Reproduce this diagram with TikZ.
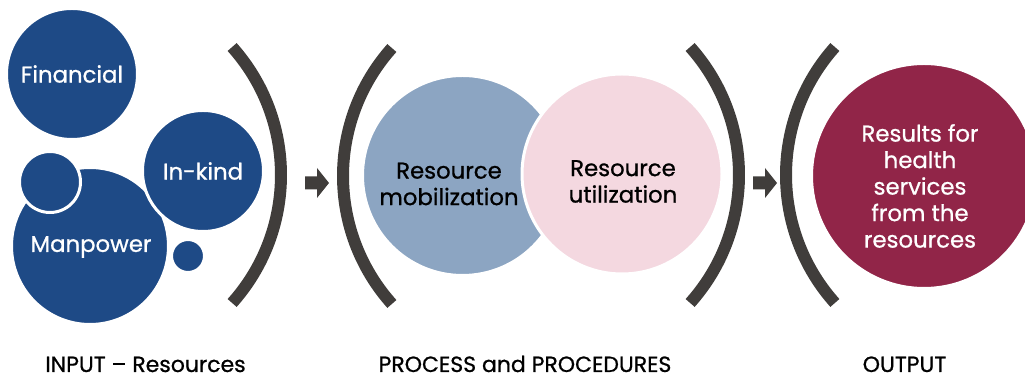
\documentclass[tikz,border=0pt]{standalone}
\usepackage{fontspec}
\setmainfont{Poppins}[FakeBold=0.8]
\definecolor{inblue}{HTML}{1E4A86}
\definecolor{bracketgrey}{HTML}{403D3B}
\definecolor{mobblue}{HTML}{8CA5C2}
\definecolor{utilpink}{HTML}{F4D8E0}
\definecolor{outmaroon}{HTML}{912548}
\tikzset{
  bubble/.style={circle, inner sep=0pt, draw=white, line width=3pt},
  bubbletext/.style={font=\fontsize{22.8}{26.5}\selectfont, align=center, inner sep=0pt},
  bracket/.style={draw=bracketgrey, line width=12pt, line cap=butt},
  blockarrow/.style={fill=bracketgrey},
  caption/.style={font=\fontsize{22}{26}\selectfont, inner sep=0pt, anchor=base}
}
\begin{document}
\begin{tikzpicture}[x=1pt,y=1pt]
\useasboundingbox (0,0) rectangle (1025,379);

% input bubbles
\node[bubble, fill=inblue, minimum size=131pt] (fin) at (72,305) {};
\node[bubble, fill=inblue, minimum size=157pt] (man) at (90,133) {};
\node[bubble, fill=inblue, minimum size=61pt] (dotl) at (50,197) {};
\node[bubble, fill=inblue, minimum size=121pt] (kind) at (203,208) {};
\node[bubble, fill=inblue, minimum size=33pt] (dotr) at (188,123) {};
\node[bubbletext, text=white] (fintext) at (fin) {Financial};
\node[bubbletext, text=white] (kindtext) at (kind) {In-kind};
\node[bubbletext, text=white] (mantext) at (91,132) {Manpower};

% process bubbles
\node[bubble, fill=mobblue, minimum size=200pt] (mob) at (462.5,203.5) {};
\node[bubble, fill=utilpink, minimum size=200pt] (util) at (622,205) {};
\node[bubbletext, text=black] (mobtext) at (449,195) {Resource\\mobilization};
\node[bubbletext, text=black] (utiltext) at (623,197.5) {Resource\\utilization};

% output bubble
\node[bubble, fill=outmaroon, minimum size=225pt] (out) at (924,203) {};
\node[bubbletext, text=white] (outtext) at (920,193) {Results for\\health\\services\\from the\\resources};

% brackets
\coordinate (b1) at (89,204);
\coordinate (b2) at (535,203);
\coordinate (b3) at (547,204);
\coordinate (b4) at (978,204);
\draw[bracket] (b1) ++(-41.8:192) arc[start angle=-41.8, end angle=41.8, radius=192];
\draw[bracket] (b2) ++(138.2:192) arc[start angle=138.2, end angle=221.8, radius=192];
\draw[bracket] (b3) ++(-41.8:192) arc[start angle=-41.8, end angle=41.8, radius=192];
\draw[bracket] (b4) ++(138.2:192) arc[start angle=138.2, end angle=221.8, radius=192];

% block arrows
\coordinate (a1) at (305,196);
\coordinate (a2) at (753,196);
\foreach \a in {a1,a2}{
  \fill[blockarrow] (\a) ++(0,6.5) -- ++(12,0) -- ++(0,8.5) -- ++(12,-15) -- ++(-12,-15) -- ++(0,8.5) -- ++(-12,0) -- cycle;
}

% captions
\node[caption] (capin) at (145.5,7) {INPUT – Resources};
\node[caption] (capproc) at (525,7) {PROCESS and PROCEDURES};
\node[caption] (capout) at (904.5,7) {OUTPUT};
\end{tikzpicture}
\end{document}
